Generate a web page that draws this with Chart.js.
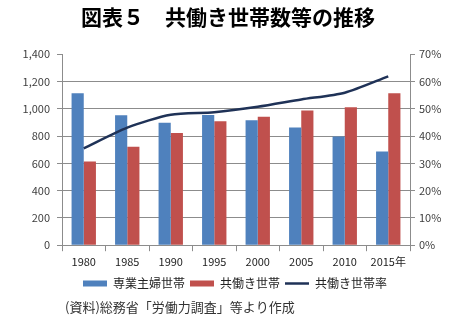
<!DOCTYPE html>
<html lang="ja">
<head>
<meta charset="utf-8">
<script src="https://cdn.jsdelivr.net/npm/chart.js@4.4.1/dist/chart.umd.min.js"></script>
<style>
  html, body { margin: 0; padding: 0; background: #fff; }
  #wrap { width: 450px; height: 329px; }
</style>
</head>
<body>
<div id="wrap"><canvas id="chart" width="450" height="329"></canvas></div>
<script>
// 年次
const years = ["1980", "1985", "1990", "1995", "2000", "2005", "2010", "2015年"];
// 専業主婦世帯（万世帯）
const housewife = [1114, 952, 897, 955, 916, 863, 797, 687];
// 共働き世帯（万世帯）
const dualIncome = [614, 722, 823, 908, 942, 988, 1012, 1114];
// 共働き世帯率（%）
const dualRate = [35.5, 43.1, 47.8, 48.7, 50.7, 53.4, 55.9, 61.9];

const leftTicks = [0, 200, 400, 600, 800, 1000, 1200, 1400];
const rightTicks = [0, 10, 20, 30, 40, 50, 60, 70];

const sourceText = '(資料)総務省「労働力調査」等より作成';
const axisGray = '#8c8c8c';
const jpFont = '"Noto Sans CJK JP", "Noto Sans", sans-serif';

// 凡例・タイトル・出典の横位置をずらす
const shiftBoxes = {
  id: 'shiftBoxes',
  afterLayout(chart) {
    const move = (box, dx) => { if (box) { box.left += dx; box.right += dx; } };
    move(chart.legend, 12);
    move(chart.titleBlock, 5);
    move(chart.boxes.find(b => b.options && b.options.text === sourceText), 60);
  }
};

const ctx = document.getElementById('chart').getContext('2d');
new Chart(ctx, {
  data: {
    labels: years,
    datasets: [
      {
        type: 'line',
        label: '共働き世帯率',
        data: dualRate,
        yAxisID: 'yRate',
        borderColor: '#1f3257',
        backgroundColor: '#1f3257',
        borderWidth: 2.5,
        pointRadius: 0,
        tension: 0.25,
        order: 0
      },
      {
        type: 'bar',
        label: '専業主婦世帯',
        data: housewife,
        yAxisID: 'y',
        backgroundColor: '#4f81bd',
        barPercentage: 1,
        categoryPercentage: 0.56,
        order: 1
      },
      {
        type: 'bar',
        label: '共働き世帯',
        data: dualIncome,
        yAxisID: 'y',
        backgroundColor: '#c0504d',
        barPercentage: 1,
        categoryPercentage: 0.56,
        order: 1
      }
    ]
  },
  plugins: [shiftBoxes],
  options: {
    responsive: false,
    animation: false,
    devicePixelRatio: 1,
    layout: { padding: { left: 5, right: 9, top: 0, bottom: 0 } },
    plugins: {
      title: {
        display: true,
        text: '図表５　共働き世帯数等の推移',
        color: '#000',
        font: { family: jpFont, size: 21, weight: 'bold' },
        padding: { top: 4, bottom: 25 }
      },
      subtitle: {
        display: true,
        position: 'bottom',
        align: 'start',
        text: sourceText,
        color: '#333',
        font: { family: jpFont, size: 13 },
        padding: { top: 0, bottom: 14 }
      },
      legend: {
        position: 'bottom',
        labels: {
          color: '#222',
          font: { family: jpFont, size: 12 },
          usePointStyle: true,
          pointStyleWidth: 24,
          boxHeight: 6,
          padding: 5,
          sort: (a, b) => {
            const rank = { '専業主婦世帯': 0, '共働き世帯': 1, '共働き世帯率': 2 };
            return rank[a.text] - rank[b.text];
          },
          generateLabels: (chart) => {
            const items = Chart.defaults.plugins.legend.labels.generateLabels(chart);
            items.forEach(it => {
              it.pointStyle = it.text === '共働き世帯率' ? 'line' : 'rect';
              if (it.text !== '共働き世帯率') it.lineWidth = 0;
            });
            return items;
          }
        }
      },
      tooltip: { enabled: false }
    },
    scales: {
      x: {
        offset: true,
        grid: {
          offset: true,
          drawOnChartArea: false,
          color: axisGray,
          tickLength: 6
        },
        border: { color: axisGray },
        ticks: {
          color: '#222',
          font: { family: jpFont, size: 11 },
          padding: 4,
          maxRotation: 0
        }
      },
      y: {
        position: 'left',
        min: 0,
        max: 1400,
        afterBuildTicks: (s) => { s.ticks = leftTicks.map(v => ({ value: v })); },
        afterFit: (s) => { s.width = 57; },
        grid: {
          color: (c) => c.tick && c.tick.value === 1400 ? 'rgba(0,0,0,0)' : axisGray,
          tickColor: axisGray,
          tickLength: 5
        },
        border: { color: axisGray },
        ticks: {
          color: '#404040',
          font: { family: jpFont, size: 11 },
          padding: 7,
          callback: (v) => v.toLocaleString('en-US')
        }
      },
      yRate: {
        position: 'right',
        min: 0,
        max: 70,
        afterBuildTicks: (s) => { s.ticks = rightTicks.map(v => ({ value: v })); },
        afterFit: (s) => { s.width = 31; },
        grid: {
          drawOnChartArea: false,
          color: axisGray,
          tickLength: 5
        },
        border: { color: axisGray },
        ticks: {
          color: '#404040',
          font: { family: jpFont, size: 11 },
          padding: 4,
          callback: (v) => v + '%'
        }
      }
    }
  }
});
</script>
</body>
</html>
